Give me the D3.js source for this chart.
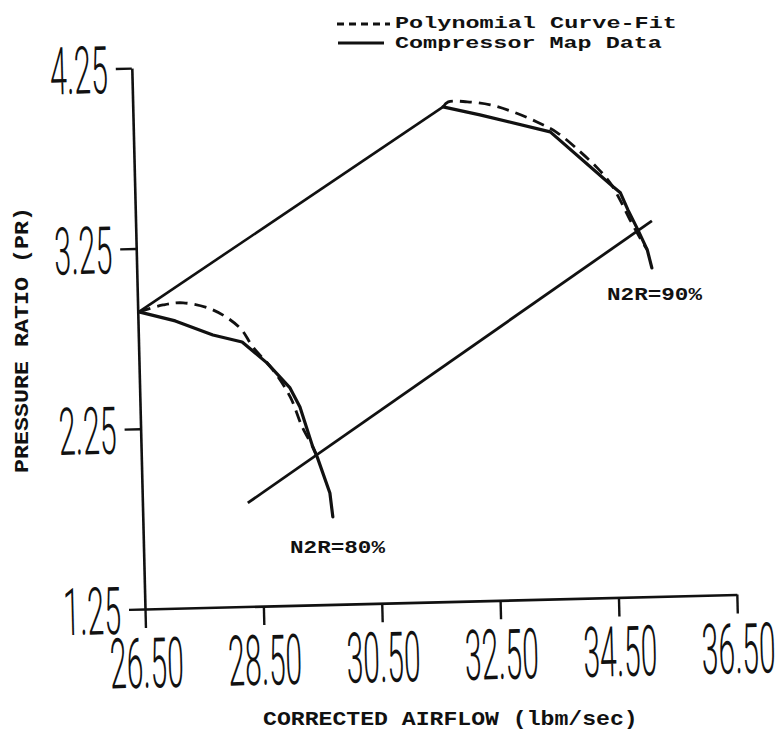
<!DOCTYPE html>
<html>
<head>
<meta charset="utf-8">
<script src="https://cdn.jsdelivr.net/npm/d3@7"></script>
<style>
  body { margin: 0; background: #fff; }
  svg { display: block; }
</style>
</head>
<body>
<svg id="chart" width="780" height="732"></svg>
<script>
// Axis ticks
const xTicks = [26.5, 28.5, 30.5, 32.5, 34.5, 36.5];
const yTicks = [1.25, 2.25, 3.25, 4.25];

// N2R = 80% speed line: compressor map data
const map80Airflow = [26.52, 27.13, 27.76, 28.25, 28.66, 29.04, 29.20, 29.40, 29.47, 29.67, 29.71];
const map80PR      = [2.898, 2.843, 2.760, 2.717, 2.598, 2.456, 2.349, 2.126, 2.070, 1.868, 1.735];

// N2R = 80% speed line: polynomial curve-fit
const fit80Airflow = [26.52, 26.93, 27.27, 27.77, 28.22, 28.43, 28.76, 29.04, 29.23, 29.40, 29.47];
const fit80PR      = [2.898, 2.933, 2.942, 2.899, 2.795, 2.688, 2.558, 2.406, 2.238, 2.126, 2.070];

// N2R = 90% speed line: compressor map data
const map90Airflow = [31.74, 32.36, 33.54, 34.58, 34.70, 34.82, 34.98, 35.13, 35.20];
const map90PR      = [3.993, 3.944, 3.840, 3.527, 3.493, 3.397, 3.285, 3.173, 3.072];

// N2R = 90% speed line: polynomial curve-fit
const fit90Airflow = [31.74, 31.83, 32.15, 32.54, 32.92, 33.32, 33.66, 34.04, 34.32, 34.53, 34.69, 34.85, 35.06, 35.13];
const fit90PR      = [3.993, 4.020, 4.018, 3.998, 3.956, 3.897, 3.834, 3.725, 3.634, 3.550, 3.454, 3.342, 3.212, 3.173];

// Surge line joining the two speed lines, and the lower operating line
const surgeAirflow = [26.52, 31.74];
const surgePR      = [2.898, 3.993];
const operAirflow  = [28.28, 35.22];
const operPR       = [1.824, 3.333];

const INK = "#111";
const svg = d3.select("#chart");

const W = 592, H = 541;
const x = d3.scaleLinear().domain([26.5, 36.5]).range([0, W]);
const y = d3.scaleLinear().domain([1.25, 4.25]).range([0, -H]);

// Horizontally compress each text of a selection to a given width
function squeeze(sel, width, prefix = "") {
  sel.each(function () {
    const t = d3.select(this);
    const x0 = +t.attr("x") || 0, y0 = +t.attr("y") || 0;
    const s = width / this.getComputedTextLength();
    t.attr("x", 0).attr("y", 0)
      .attr("transform", `${prefix} translate(${x0},${y0}) scale(${s},1)`);
  });
}

// the whole plot frame sits slightly tilted
const plot = svg.append("g").attr("transform", "translate(145,609) rotate(-1.4)");

const zip = (xs, ys) => xs.map((v, i) => [v, ys[i]]);

// X axis
const xAxis = plot.append("g")
  .call(d3.axisBottom(x).tickValues(xTicks).tickSize(19).tickSizeOuter(0)
    .tickPadding(10).tickFormat(d3.format(".2f")));

// Y axis
const yAxis = plot.append("g")
  .call(d3.axisLeft(y).tickValues(yTicks).tickSize(16).tickSizeOuter(0)
    .tickPadding(8).tickFormat(d3.format(".2f")));

[xAxis, yAxis].forEach(g => {
  g.select(".domain").attr("stroke", INK).attr("stroke-width", 2.6);
  g.selectAll(".tick line").attr("stroke", INK).attr("stroke-width", 2.4);
  g.selectAll(".tick text")
    .attr("fill", INK)
    .attr("font-family", "Roboto, 'Liberation Sans Narrow', 'Liberation Sans', sans-serif")
    .attr("font-weight", 300);
});
xAxis.selectAll(".tick text")
  .attr("font-size", 70)
  .attr("dy", "0.71em")
  .call(squeeze, 74);
yAxis.selectAll(".tick text")
  .attr("font-size", 66)
  .attr("dy", "0.36em")
  .call(squeeze, 58);

// Lines
const line = d3.line().x(d => x(d[0])).y(d => y(d[1]));
const smooth = d3.line().x(d => x(d[0])).y(d => y(d[1])).curve(d3.curveCatmullRom.alpha(0.5));

plot.append("path").datum(zip(surgeAirflow, surgePR))
  .attr("d", line).attr("fill", "none").attr("stroke", INK).attr("stroke-width", 2.6);
plot.append("path").datum(zip(operAirflow, operPR))
  .attr("d", line).attr("fill", "none").attr("stroke", INK).attr("stroke-width", 2.8);

[[fit80Airflow, fit80PR], [fit90Airflow, fit90PR]].forEach(([a, p]) => {
  plot.append("path").datum(zip(a, p))
    .attr("d", smooth).attr("fill", "none").attr("stroke", INK)
    .attr("stroke-width", 2.8).attr("stroke-dasharray", "12,7");
});
[[map80Airflow, map80PR], [map90Airflow, map90PR]].forEach(([a, p]) => {
  plot.append("path").datum(zip(a, p))
    .attr("d", line).attr("fill", "none").attr("stroke", INK)
    .attr("stroke-width", 3.2).attr("stroke-linejoin", "round").attr("stroke-linecap", "round");
});

// Text helpers
const mono = "'Liberation Mono', 'DejaVu Sans Mono', monospace";
function label(str, px, py, size, width, prefix = "") {
  svg.append("text").attr("x", px).attr("y", py).text(str)
    .attr("font-family", mono).attr("font-weight", "bold").attr("font-size", size)
    .attr("fill", INK)
    .call(squeeze, width, prefix);
}

// Speed-line labels
label("N2R=90%", 607, 300, 19, 95);
label("N2R=80%", 290, 553, 19, 95);

// Axis titles
label("CORRECTED AIRFLOW (lbm/sec)", 263, 725, 20, 375);
label("PRESSURE RATIO (PR)", 0, 0, 20, 266, "translate(28,473) rotate(-90)");

// Legend
const legend = svg.append("g");
legend.append("line").attr("x1", 337).attr("x2", 390).attr("y1", 24).attr("y2", 24)
  .attr("stroke", INK).attr("stroke-width", 3).attr("stroke-dasharray", "7,5");
legend.append("line").attr("x1", 338).attr("x2", 384).attr("y1", 43).attr("y2", 43)
  .attr("stroke", INK).attr("stroke-width", 3);
label("Polynomial Curve-Fit", 395, 28, 16, 282);
label("Compressor Map Data", 395, 48, 16, 267);
</script>
</body>
</html>
